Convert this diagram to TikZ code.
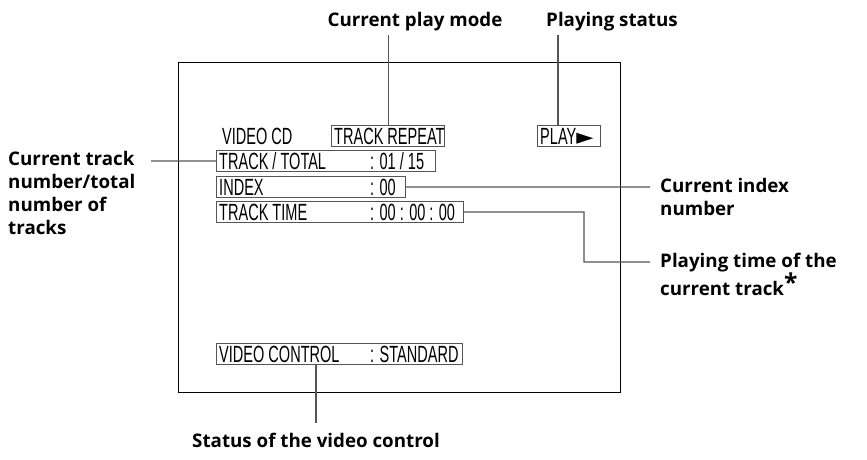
\documentclass[tikz,border=0pt]{standalone}
\usepackage{fontspec}
\setmainfont{Open Sans}
\newfontfamily\osdfont[FakeStretch=0.62]{Liberation Sans}
\newfontfamily\symfont{DejaVu Sans}
\usetikzlibrary{positioning}
\definecolor{linegray}{HTML}{555555}

\begin{document}
\begin{tikzpicture}[x=0.03cm,y=-0.03cm,
    osdbox/.style={draw=linegray, line width=0.9pt, rectangle, inner sep=0pt, anchor=north west},
    osdtext/.style={font=\osdfont\fontsize{20pt}{20pt}\selectfont, inner sep=0pt, anchor=west},
    callout/.style={font=\bfseries\fontsize{16pt}{19.5pt}\selectfont, inner sep=0pt},
    lead/.style={draw=linegray, line width=0.9pt}
]
    \useasboundingbox (0,0) rectangle (867,460);
    % Screen
    \draw[line width=0.8pt] (178,62) rectangle (620,392);

    % Boxes on the screen
    \node[osdbox, minimum width=113*0.03cm, minimum height=21*0.03cm] (repeat) at (331,125) {};
    \node[osdbox, minimum width=63*0.03cm, minimum height=21*0.03cm] (play) at (537,125) {};
    \node[osdbox, minimum width=219*0.03cm, minimum height=21*0.03cm] (total) at (216,150) {};
    \node[osdbox, minimum width=189*0.03cm, minimum height=21*0.03cm] (index) at (216,176) {};
    \node[osdbox, minimum width=247*0.03cm, minimum height=21*0.03cm] (time) at (216,201) {};
    \node[osdbox, minimum width=246*0.03cm, minimum height=21*0.03cm] (control) at (216,343) {};

    % Screen texts
    \node[osdtext] (vcd) at (222,136) {VIDEO CD};
    \node[osdtext] (repeattext) at (334,136) {TRACK REPEAT};
    \node[osdtext] (playtext) at (540,136) {PLAY{\symfont\fontsize{19pt}{19pt}\selectfont ►}};
    \node[osdtext] (totaltext) at (219,161) {TRACK / TOTAL};
    \node[osdtext] (totalval) at (370,161) {: 01 / 15};
    \node[osdtext] (indextext) at (219,187) {INDEX};
    \node[osdtext] (indexval) at (370,187) {: 00};
    \node[osdtext] (timetext) at (219,212) {TRACK TIME};
    \node[osdtext] (timeval) at (370,212) {: 00 : 00 : 00};
    \node[osdtext] (controltext) at (219,354) {VIDEO CONTROL};
    \node[osdtext] (controlval) at (370,354) {: STANDARD};

    % Callouts
    \node[callout] (modelabel) at (415,22) {Current play mode};
    \node[callout] (statuslabel) at (612,22) {Playing status};
    \node[callout, align=left, anchor=north west] (tracklabel) at (8,151) {Current track\\number/total\\number of\\tracks};
    \node[callout, align=left, anchor=north west] (indexlabel) at (660,178) {Current index\\number};
    \node[callout, align=left, anchor=north west] (timelabel) at (660,253) {Playing time of the\\current track\raisebox{0.3ex}{\fontsize{21pt}{21pt}\selectfont*}};
    \node[callout] (controllabel) at (316,440) {Status of the video control};

    % Leader lines
    \draw[lead] (repeat.north) -- (repeat.north |- 0,35);
    \draw[lead] (play.north -| 558,0) -- (558,35);
    \draw[lead] (total.west) -- (151,161);
    \draw[lead] (index.east) -- (650,187);
    \draw[lead] (time.east) -- (584,212) -- (584,262) -- (650,262);
    \draw[lead] (control.south -| 316,0) -- (316,423);
\end{tikzpicture}
\end{document}
